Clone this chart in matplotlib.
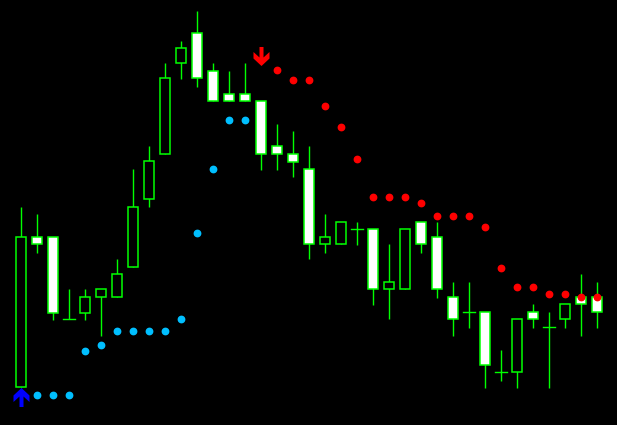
import numpy as np
import matplotlib
matplotlib.use("Agg")
import matplotlib.pyplot as plt
from matplotlib.patches import Rectangle
from matplotlib.path import Path

# OHLC values (price units)
opens  = [38, 188, 188, 106, 112, 128, 128, 158, 226, 271, 362, 392, 354, 331, 331, 324, 279, 271, 256, 181,
          181, 196, 196, 136, 136, 203, 188, 128, 113, 113, 53, 53, 113, 98, 106, 128, 128]
highs  = [218, 211, 188, 136, 136, 136, 166, 256, 279, 362, 384, 414, 362, 354, 362, 324, 301, 294, 279, 211,
          203, 203, 196, 181, 196, 203, 203, 143, 143, 113, 75, 106, 121, 113, 121, 151, 143]
lows   = [38, 172, 105, 106, 105, 89, 128, 158, 218, 271, 346, 338, 324, 324, 324, 255, 255, 248, 166, 172,
          181, 180, 120, 106, 136, 172, 127, 89, 97, 37, 44, 37, 97, 37, 97, 89, 97]
closes = [188, 181, 112, 106, 128, 136, 151, 218, 264, 347, 377, 347, 324, 324, 324, 271, 271, 263, 181, 188,
          203, 196, 136, 143, 196, 181, 136, 106, 113, 60, 53, 106, 106, 98, 121, 121, 113]

nan = np.nan
support = [nan, 30, 30, 30, 74, 80, 94, 94, 94, 94, 106, 192, 256, 305, 305] + [nan] * 22
resistance = [nan] * 16 + [355, 345, 345, 319, 298, 266, 228, 228, 228, 222, 209, 209, 209, 198, 157,
                           138, 138, 131, 131, 128, 128]

buy_idx, buy_level = 0, 28
sell_idx, sell_level = 15, 369

GREEN = "#00ff00"
CYAN = "#00bfff"
RED = "#ff0000"
BLUE = "#0000ff"

fig = plt.figure(figsize=(6.17, 4.25), dpi=100, facecolor="black")
ax = fig.add_axes([0, 0, 1, 1])
ax.set_facecolor("black")
n = len(opens)
ax.set_xlim(-21 / 16, (617 - 21) / 16)
ax.set_ylim(0, 425)
ax.axis("off")

bw = 0.6
for i in range(n):
    o, h, l, c = opens[i], highs[i], lows[i], closes[i]
    ax.plot([i, i], [l, h], color=GREEN, lw=1.0, zorder=1, solid_capstyle="butt")
    if o == c:
        ax.plot([i - bw / 2 - 0.05, i + bw / 2 + 0.05], [o, o], color=GREEN, lw=1.0, zorder=2)
    else:
        fill = "black" if c > o else "white"
        ax.add_patch(Rectangle((i - bw / 2, min(o, c)), bw, abs(c - o), facecolor=fill,
                               edgecolor=GREEN, lw=1.1, zorder=2))

x = np.arange(n)
ax.plot(x, support, ls="none", marker="o", ms=4.6, color=CYAN, mec=CYAN, zorder=4)
ax.plot(x, resistance, ls="none", marker="o", ms=4.6, color=RED, mec=RED, zorder=4)

# arrow marker shape (thick shaft with chevron head)
down_verts = [(-2, 9.5), (2, 9.5), (2, -1), (8, 4.5), (8, -2), (0, -9.5),
              (-8, -2), (-8, 4.5), (-2, -1), (-2, 9.5)]
down_path = Path(down_verts, closed=True)
up_path = Path([(vx, -vy) for vx, vy in down_verts], closed=True)

ax.plot([sell_idx], [sell_level], ls="none", marker=down_path, ms=13.7, color=RED, mec=RED, mew=0, zorder=5)
ax.plot([buy_idx], [buy_level], ls="none", marker=up_path, ms=13.7, color=BLUE, mec=BLUE, mew=0, zorder=5)

fig.savefig("out.png", dpi=100, facecolor="black")
